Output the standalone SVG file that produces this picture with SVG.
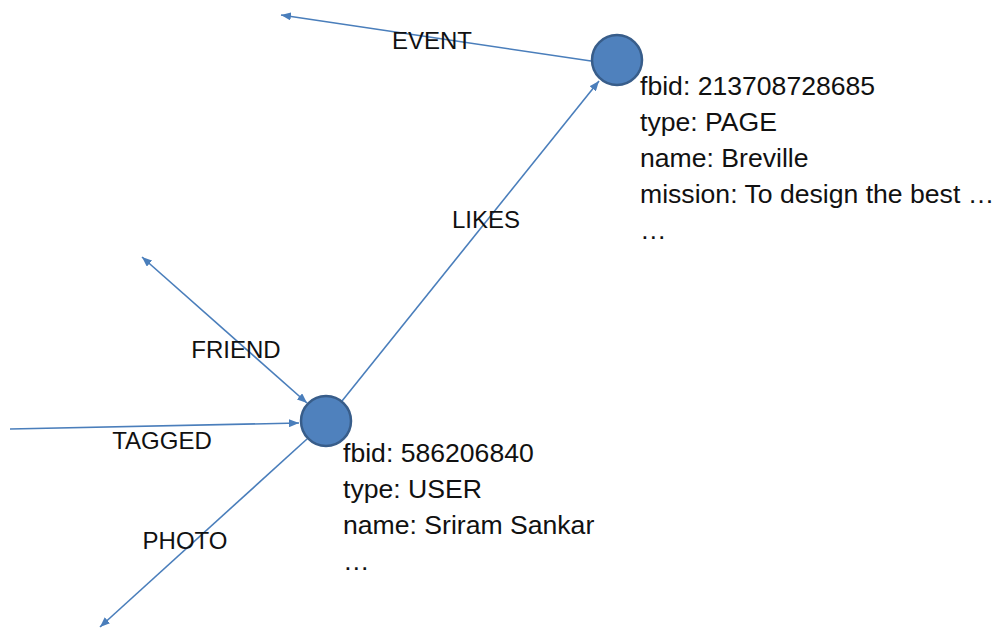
<svg xmlns="http://www.w3.org/2000/svg" width="998" height="629" viewBox="0 0 998 629">
  <style>
    .edge { stroke: #4A7EBB; stroke-width: 1.6; fill: none; }
    .node { fill: #4F81BD; stroke: #385D8A; stroke-width: 2.5; }
    .lbl { font-family: "Liberation Sans", Arial, sans-serif; font-size: 24px; fill: #111111; text-anchor: middle; }
    .info { font-family: "Liberation Sans", Arial, sans-serif; font-size: 26.6px; fill: #111111; }
  </style>
  <defs>
    <marker id="arrow" viewBox="0 0 10 8" refX="10" refY="4" markerWidth="10" markerHeight="8" markerUnits="userSpaceOnUse" orient="auto-start-reverse">
      <path d="M0,0 L10,4 L0,8 z" fill="#4A7EBB"/>
    </marker>
  </defs>
  <rect width="998" height="629" fill="#ffffff"/>
  <g id="connectors">
    <line class="edge" x1="591" y1="61" x2="281" y2="15" marker-end="url(#arrow)"/>
    <line class="edge" x1="342" y1="401" x2="599" y2="81" marker-end="url(#arrow)"/>
    <line class="edge" x1="142" y1="257" x2="307" y2="403" marker-start="url(#arrow)" marker-end="url(#arrow)"/>
    <line class="edge" x1="10" y1="429" x2="299" y2="423" marker-end="url(#arrow)"/>
    <line class="edge" x1="307" y1="439" x2="100" y2="627" marker-end="url(#arrow)"/>
    <text class="lbl" x="432" y="49">EVENT</text>
    <text class="lbl" x="486" y="228">LIKES</text>
    <text class="lbl" x="236" y="358">FRIEND</text>
    <text class="lbl" x="162" y="449">TAGGED</text>
    <text class="lbl" x="185" y="549">PHOTO</text>
  </g>
  <g id="node-page">
    <circle class="node" cx="617" cy="60" r="25"/>
    <text class="info" x="640" y="95">fbid: 213708728685</text>
    <text class="info" x="640" y="131">type: PAGE</text>
    <text class="info" x="640" y="167">name: Breville</text>
    <text class="info" x="640" y="203">mission: To design the best …</text>
    <text class="info" x="640" y="239">…</text>
  </g>
  <g id="node-user">
    <circle class="node" cx="326" cy="421" r="25"/>
    <text class="info" x="343" y="462">fbid: 586206840</text>
    <text class="info" x="343" y="498">type: USER</text>
    <text class="info" x="343" y="534">name: Sriram Sankar</text>
    <text class="info" x="343" y="570">…</text>
  </g>
</svg>
